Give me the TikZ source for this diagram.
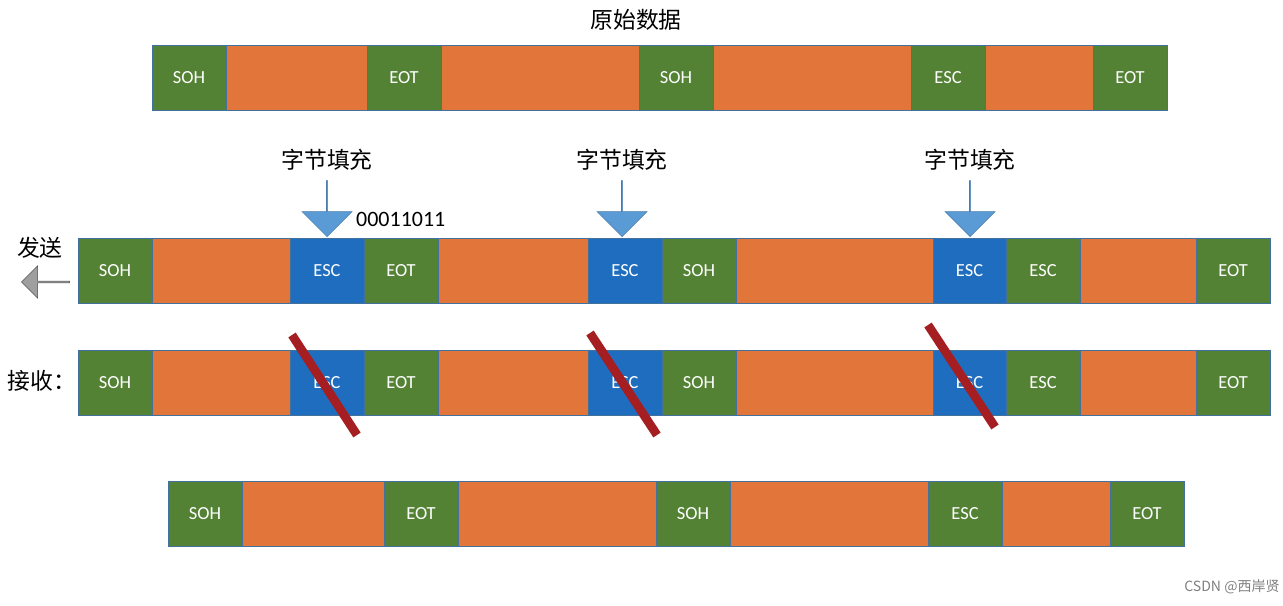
\documentclass[tikz,border=0pt]{standalone}
\usepackage{fontspec}
\setmainfont{Carlito}
\newfontfamily\cjk{Noto Sans CJK SC}
\usetikzlibrary{shapes.arrows}
\definecolor{cellgreen}{HTML}{548235}
\definecolor{cellorange}{HTML}{E2763A}
\definecolor{cellblue}{HTML}{1F6DBF}
\definecolor{arrowblue}{HTML}{5B9BD5}
\definecolor{slashred}{HTML}{A51E22}
\definecolor{cellline}{HTML}{41719C}
\tikzset{
  cell/.style={draw=cellline, line width=0.5pt, minimum height=65*0.02cm,
    inner sep=0pt, text=white, font=\fontsize{10.5pt}{12pt}\selectfont},
  cjklabel/.style={font=\cjk\fontsize{13pt}{15pt}\selectfont},
  downarrow/.style={single arrow, fill=arrowblue, draw=arrowblue!80!black, line width=0.3pt,
    shape border rotate=270, minimum height=56*0.02cm, minimum width=50*0.02cm,
    single arrow head extend=0.25cm, inner sep=0pt},
  slash/.style={slashred, line width=5pt}
}
\begin{document}
\begin{tikzpicture}[x=0.02cm, y=-0.02cm]
        \useasboundingbox (0,0) rectangle (1283,605);

        % original data
        \node[cjklabel] (title) at (636,20) {原始数据};
        \foreach \a/\b/\c/\t [count=\i] in {152/226/cellgreen/SOH, 226/367/cellorange/,
            367/441/cellgreen/EOT, 441/639/cellorange/, 639/713/cellgreen/SOH,
            713/911/cellorange/, 911/985/cellgreen/ESC, 985/1093/cellorange/,
            1093/1167/cellgreen/EOT}
          \node[cell, fill=\c, minimum width={(\b-\a)*0.02cm}] (o\i) at ({(\a+\b)/2},77.5) {\t};

        % sent and received frames
        \foreach \row/\y in {s/270.5, r/382.5}
          \foreach \a/\b/\c/\t [count=\i] in {78/152/cellgreen/SOH, 152/290/cellorange/,
              290/364/cellblue/ESC, 364/438/cellgreen/EOT, 438/588/cellorange/,
              588/662/cellblue/ESC, 662/736/cellgreen/SOH, 736/933/cellorange/,
              933/1006/cellblue/ESC, 1006/1080/cellgreen/ESC, 1080/1196/cellorange/,
              1196/1270/cellgreen/EOT}
            \node[cell, fill=\c, minimum width={(\b-\a)*0.02cm}] (\row\i) at ({(\a+\b)/2},\y) {\t};

        % byte stuffing marks
        \foreach \i/\x in {3/327, 6/622, 9/970} {
          \node[downarrow, anchor=tip] (f\i) at (\x,237) {};
          \node[cjklabel, above=2pt] (l\i) at (f\i.tail) {字节填充};
        }
        \node[font=\fontsize{12.5pt}{14pt}\selectfont, anchor=west] (code) at (350,219) {00011011};

        \node[cjklabel] (send) at (40,248) {发送};
        \node[single arrow, fill=gray!75, draw=gray!60!black, line width=0.3pt,
          shape border rotate=180, minimum height=48*0.02cm, minimum width=32*0.02cm,
          single arrow head extend=0.1cm, inner sep=0pt] (out) at (46,282) {};
        \node[cjklabel] (recv) at (42,381) {接收：};

        % removed escapes
        \draw[slash] (292,335) -- (357,435);
        \draw[slash] (590,333) -- (657,435);
        \draw[slash] (928,325) -- (995,427);

        % restored data
        \foreach \a/\b/\c/\t [count=\i] in {168/242/cellgreen/SOH, 242/384/cellorange/,
            384/458/cellgreen/EOT, 458/656/cellorange/, 656/730/cellgreen/SOH,
            730/928/cellorange/, 928/1002/cellgreen/ESC, 1002/1110/cellorange/,
            1110/1184/cellgreen/EOT}
          \node[cell, fill=\c, minimum width={(\b-\a)*0.02cm}] (d\i) at ({(\a+\b)/2},513.5) {\t};

        \node[font=\cjk\fontsize{8pt}{9pt}\selectfont, text=gray] (mark) at (1232,587) {CSDN @西岸贤};
\end{tikzpicture}
\end{document}
